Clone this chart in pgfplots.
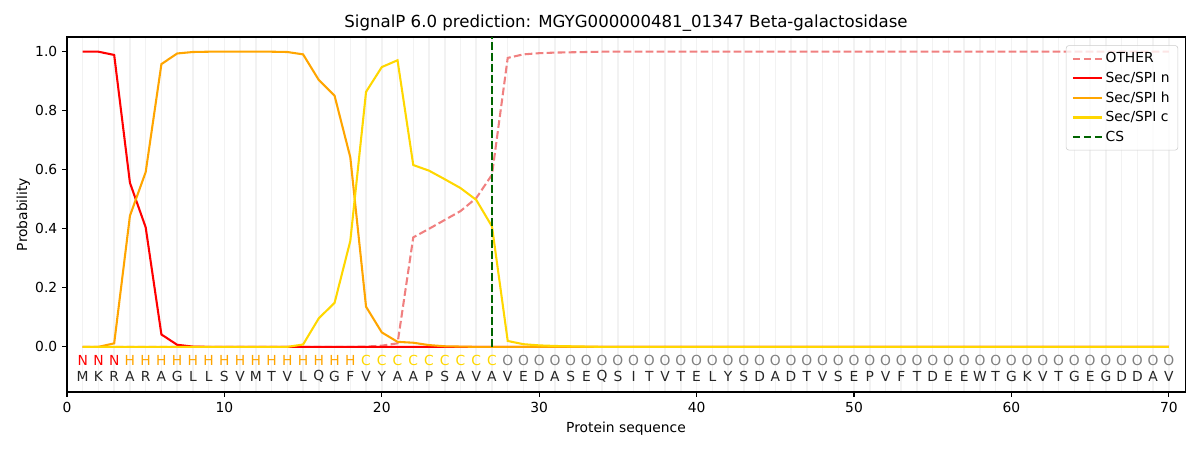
\documentclass[border=0pt]{standalone}
\usepackage{pgfplots}
\usepackage{pgfplotstable}
\pgfplotsset{compat=1.18}
\usepackage{fontspec}
\setmainfont{DejaVu Sans}
\definecolor{cother}{HTML}{F08080}
\definecolor{cn}{HTML}{FF0000}
\definecolor{ch}{HTML}{FFA500}
\definecolor{cc}{HTML}{FFD700}
\definecolor{ccs}{HTML}{006400}
\definecolor{gridc}{HTML}{F2F2F2}
\definecolor{legc}{HTML}{CCCCCC}

\pgfplotstableread{
pos other n h c
1 0 1.000 0 0
2 0 1.000 0 0
3 0 0.989 0.012 0
4 0 0.556 0.444 0
5 0 0.405 0.592 0
6 0 0.042 0.958 0
7 0 0.007 0.994 0
8 0 0.001 0.999 0
9 0 0 1.000 0
10 0 0 1.000 0
11 0 0 1.000 0
12 0 0 1.000 0
13 0 0 1.000 0
14 0 0 0.999 0
15 0 0 0.991 0.008
16 0 0 0.904 0.097
17 0 0 0.851 0.149
18 0 0 0.642 0.359
19 0.001 0 0.136 0.864
20 0.004 0 0.049 0.948
21 0.012 0 0.017 0.971
22 0.371 0 0.014 0.616
23 0.400 0 0.006 0.597
24 0.430 0 0.002 0.568
25 0.460 0 0.001 0.538
26 0.504 0 0 0.498
27 0.583 0 0 0.408
28 0.979 0 0 0.020
29 0.991 0 0 0.009
30 0.995 0 0 0.005
31 0.997 0 0 0.003
32 0.998 0 0 0.002
33 0.999 0 0 0.001
34 1.000 0 0 0
35 1.000 0 0 0
36 1.000 0 0 0
37 1.000 0 0 0
38 1.000 0 0 0
39 1.000 0 0 0
40 1.000 0 0 0
41 1.000 0 0 0
42 1.000 0 0 0
43 1.000 0 0 0
44 1.000 0 0 0
45 1.000 0 0 0
46 1.000 0 0 0
47 1.000 0 0 0
48 1.000 0 0 0
49 1.000 0 0 0
50 1.000 0 0 0
51 1.000 0 0 0
52 1.000 0 0 0
53 1.000 0 0 0
54 1.000 0 0 0
55 1.000 0 0 0
56 1.000 0 0 0
57 1.000 0 0 0
58 1.000 0 0 0
59 1.000 0 0 0
60 1.000 0 0 0
61 1.000 0 0 0
62 1.000 0 0 0
63 1.000 0 0 0
64 1.000 0 0 0
65 1.000 0 0 0
66 1.000 0 0 0
67 1.000 0 0 0
68 1.000 0 0 0
69 1.000 0 0 0
70 1.000 0 0 0
}\probs

\pgfplotstableread{
pos y aa lab
1 -0.100 M N
2 -0.100 K N
3 -0.100 R N
4 -0.100 A H
5 -0.100 R H
6 -0.100 A H
7 -0.100 G H
8 -0.100 L H
9 -0.100 L H
10 -0.100 S H
11 -0.100 V H
12 -0.100 M H
13 -0.100 T H
14 -0.100 V H
15 -0.100 L H
16 -0.100 Q H
17 -0.100 G H
18 -0.100 F H
19 -0.100 V C
20 -0.100 Y C
21 -0.100 A C
22 -0.100 A C
23 -0.100 P C
24 -0.100 S C
25 -0.100 A C
26 -0.100 V C
27 -0.100 A C
28 -0.100 V O
29 -0.100 E O
30 -0.100 D O
31 -0.100 A O
32 -0.100 S O
33 -0.100 E O
34 -0.100 Q O
35 -0.100 S O
36 -0.100 I O
37 -0.100 T O
38 -0.100 V O
39 -0.100 T O
40 -0.100 E O
41 -0.100 L O
42 -0.100 Y O
43 -0.100 S O
44 -0.100 D O
45 -0.100 A O
46 -0.100 D O
47 -0.100 T O
48 -0.100 V O
49 -0.100 S O
50 -0.100 E O
51 -0.100 P O
52 -0.100 V O
53 -0.100 F O
54 -0.100 T O
55 -0.100 D O
56 -0.100 E O
57 -0.100 E O
58 -0.100 W O
59 -0.100 T O
60 -0.100 G O
61 -0.100 K O
62 -0.100 V O
63 -0.100 T O
64 -0.100 G O
65 -0.100 E O
66 -0.100 G O
67 -0.100 D O
68 -0.100 D O
69 -0.100 A O
70 -0.100 V O
}\seq

\begin{document}
\begin{tikzpicture}
\begin{axis}[
  at={(0,0)}, anchor=south west,
  scale only axis,
  width=808pt, height=256.6pt,
  xmin=0, xmax=71.03,
  ymin=-0.153, ymax=1.05,
  xtick={0,10,...,70},
  ytick={0,0.2,...,1.0},
  minor xtick={1,...,70},
  xminorgrids,
  minor grid style={color=gridc, line width=1.1pt},
  minor tick length=0pt,
  tick align=outside,
  major tick length=3.5pt,
  tick pos=left,
  every tick/.style={black, line width=0.8pt},
  axis line style={black, line width=0.8pt},
  yticklabel style={/pgf/number format/.cd, fixed, fixed zerofill, precision=1},
  /pgf/number format/assume math mode=true,
  tick label style={font=\fontsize{10}{12}\selectfont, color=black},
  label style={font=\fontsize{10}{12}\selectfont},
  xlabel={Protein sequence},
  ylabel={Probability},
  ylabel style={yshift=-3pt},
  title={SignalP 6.0 prediction: MGYG000000481\_01347 Beta-galactosidase},
  title style={font=\fontsize{12}{14}\selectfont, at={(0.5,1)}, anchor=south, yshift=-5.5pt},
  legend style={at={(1,1)}, anchor=north east, xshift=-5pt, yshift=-6pt,
    draw=legc, rounded corners=2pt, fill=white, fill opacity=0.8, text opacity=1,
    font=\fontsize{10}{12}\selectfont, row sep=1.2pt, inner xsep=4pt, inner ysep=3pt},
  legend cell align=left,
  legend image code/.code={\draw[#1] (0pt,0pt) -- (21pt,0pt);},
]
\addplot[cother, line width=1.5pt, dash pattern=on 5.55pt off 2.4pt] table[x=pos, y=other] {\probs};
\addlegendentry{OTHER}
\addplot[cn, line width=1.5pt] table[x=pos, y=n] {\probs};
\addlegendentry{Sec/SPI n}
\addplot[ch, line width=1.5pt] table[x=pos, y=h] {\probs};
\addlegendentry{Sec/SPI h}
\addplot[cc, line width=1.5pt] table[x=pos, y=c] {\probs};
\addlegendentry{Sec/SPI c}
\addplot[ccs, line width=1.5pt, dash pattern=on 5.55pt off 2.4pt] coordinates {(27,0) (27,1.05)};
\addlegendentry{CS}

% residue letters
\addplot[draw=none, mark=none, forget plot, point meta=explicit symbolic,
  nodes near coords, nodes near coords style={anchor=center, inner sep=0pt, color=black!85, font=\fontsize{10}{12}\selectfont}]
  table[x=pos, y=y, meta=aa] {\seq};
% region labels
\addplot[draw=none, mark=none, forget plot, point meta=explicit symbolic,
  nodes near coords, nodes near coords style={anchor=center, inner sep=0pt, color=cn, font=\fontsize{10}{12}\selectfont}]
  coordinates {(1,-0.047)[N] (2,-0.047)[N] (3,-0.047)[N]};
\addplot[draw=none, mark=none, forget plot, point meta=explicit symbolic,
  nodes near coords, nodes near coords style={anchor=center, inner sep=0pt, color=ch, font=\fontsize{10}{12}\selectfont}]
  coordinates {(4,-0.047)[H] (5,-0.047)[H] (6,-0.047)[H] (7,-0.047)[H] (8,-0.047)[H] (9,-0.047)[H] (10,-0.047)[H] (11,-0.047)[H] (12,-0.047)[H] (13,-0.047)[H] (14,-0.047)[H] (15,-0.047)[H] (16,-0.047)[H] (17,-0.047)[H] (18,-0.047)[H]};
\addplot[draw=none, mark=none, forget plot, point meta=explicit symbolic,
  nodes near coords, nodes near coords style={anchor=center, inner sep=0pt, color=cc, font=\fontsize{10}{12}\selectfont}]
  coordinates {(19,-0.047)[C] (20,-0.047)[C] (21,-0.047)[C] (22,-0.047)[C] (23,-0.047)[C] (24,-0.047)[C] (25,-0.047)[C] (26,-0.047)[C] (27,-0.047)[C]};
\addplot[draw=none, mark=none, forget plot, point meta=explicit symbolic,
  nodes near coords, nodes near coords style={anchor=center, inner sep=0pt, color=gray, font=\fontsize{10}{12}\selectfont}]
  table[x=pos, y expr=-0.047, meta=lab, skip coords between index={0}{27}] {\seq};
\end{axis}
\pgfresetboundingbox
\path[use as bounding box] (-48.4pt,-41.9pt) rectangle (818.8pt,283.3pt);
\end{tikzpicture}
\end{document}
